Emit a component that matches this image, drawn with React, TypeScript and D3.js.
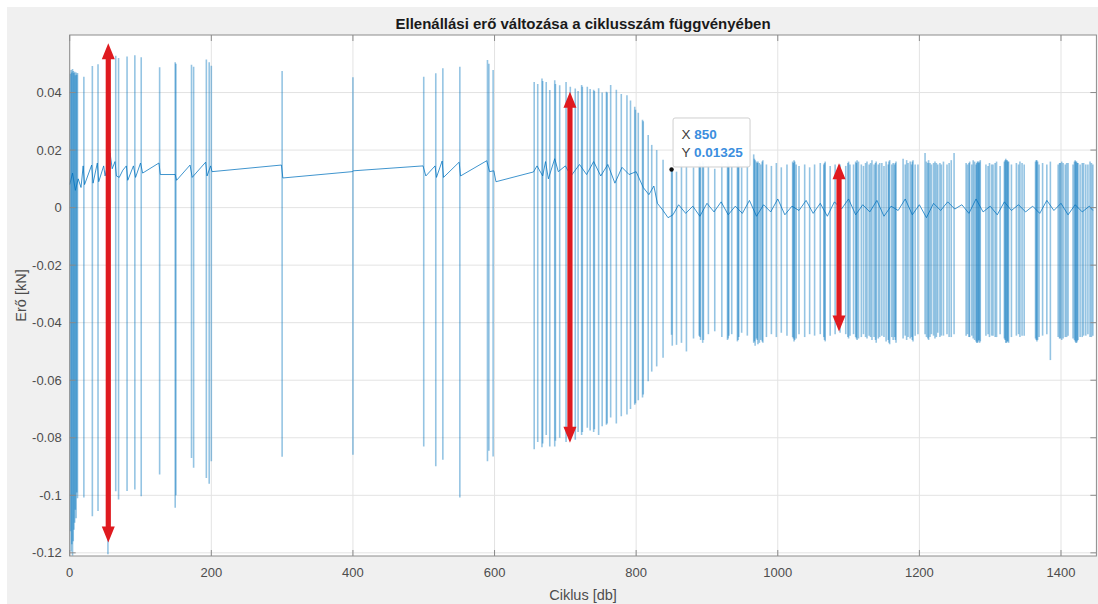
import * as d3 from 'd3'

const title = 'Ellenállási erő változása a ciklusszám függvényében'
const xLabel = 'Ciklus [db]'
const yLabel = 'Erő [kN]'

const xTicks = [0, 200, 400, 600, 800, 1000, 1200, 1400]
const yTicks = [-0.12, -0.1, -0.08, -0.06, -0.04, -0.02, 0, 0.02, 0.04]

// spikes: [cycle, peak, trough] (kN)
const spikesStart: [number, number, number][] = [
  [1, 0.0465, -0.1125], [2, 0.0478, -0.1195], [3, 0.047, -0.117], [4, 0.0482, -0.121],
  [5, 0.0475, -0.116], [6, 0.0468, -0.112], [7, 0.0472, -0.1095], [8, 0.046, -0.105],
  [9, 0.047, -0.108], [10, 0.0462, -0.099], [11, 0.0468, -0.101],
  [20, 0.0455, -0.1008], [32, 0.0492, -0.1073], [40, 0.0498, -0.1055], [54, 0.053, -0.1205],
  [65, 0.0528, -0.0986], [69, 0.052, -0.1015], [81, 0.0525, -0.0985], [92, 0.053, -0.098],
  [101, 0.0523, -0.1003], [127, 0.0488, -0.0928], [149, 0.0505, -0.1043], [150, 0.05, -0.1],
  [172, 0.0497, -0.087], [175, 0.049, -0.0904], [193, 0.0515, -0.094], [197, 0.0505, -0.096],
  [200, 0.0493, -0.0882],
]

const spikesMiddle: [number, number, number][] = [
  [300, 0.0475, -0.0866], [400, 0.0453, -0.0859], [500, 0.0455, -0.083], [517, 0.0467, -0.0899],
  [527, 0.0484, -0.0876], [551, 0.049, -0.1008], [590, 0.0513, -0.0882], [592, 0.05, -0.0845],
  [598, 0.0478, -0.0865], [656, 0.0437, -0.084], [661, 0.043, -0.0815], [667, 0.0449, -0.0833],
  [668, 0.044, -0.082], [673, 0.0437, -0.079], [678, 0.0409, -0.083], [685, 0.0443, -0.083],
  [686, 0.043, -0.081], [692, 0.0425, -0.08], [701, 0.0437, -0.0815], [707, 0.042, -0.0795],
  [714, 0.0414, -0.0807], [718, 0.0405, -0.078], [723, 0.0426, -0.079], [724, 0.042, -0.078],
  [731, 0.042, -0.0765], [735, 0.0412, -0.0775], [740, 0.041, -0.078], [741, 0.0405, -0.077],
  [747, 0.0415, -0.079], [752, 0.04, -0.076], [758, 0.0403, -0.0755], [759, 0.04, -0.075],
  [764, 0.0426, -0.073], [772, 0.041, -0.075], [779, 0.0395, -0.0725], [787, 0.0391, -0.0719],
  [792, 0.0372, -0.07], [798, 0.0351, -0.0685], [799, 0.034, -0.068], [803, 0.033, -0.067],
  [809, 0.0305, -0.066], [810, 0.03, -0.065], [817, 0.0252, -0.0604], [822, 0.0218, -0.057],
  [829, 0.02, -0.0552], [838, 0.0166, -0.0522],
]

const spikesEnd: [number, number, number][] = [
  [850, 0.01325, -0.0442], [851, 0.013, -0.048], [857, 0.0125, -0.0477], [864, 0.015, -0.047],
  [871, 0.0145, -0.05], [881, 0.014, -0.0455], [889, 0.0158, -0.0445], [890, 0.0155, -0.045],
  [891, 0.015, -0.046], [894, 0.0162, -0.047], [895, 0.0155, -0.046], [902, 0.015, -0.044],
  [911, 0.0135, -0.043], [921, 0.0155, -0.045], [929, 0.016, -0.046], [930, 0.0155, -0.0455],
  [931, 0.015, -0.0445], [935, 0.0145, -0.044], [943, 0.0158, -0.0465], [944, 0.0155, -0.046],
  [945, 0.015, -0.045], [949, 0.014, -0.0435], [957, 0.015, -0.0445], [966, 0.0185, -0.047],
  [967, 0.017, -0.0465], [968, 0.0165, -0.048], [970, 0.016, -0.0455], [971, 0.0155, -0.046],
  [972, 0.016, -0.0475], [974, 0.0155, -0.047], [976, 0.015, -0.046], [978, 0.016, -0.0465],
  [979, 0.0165, -0.047], [984, 0.015, -0.045], [991, 0.0145, -0.044], [998, 0.0155, -0.045],
  [1005, 0.014, -0.0435], [1013, 0.015, -0.0445], [1021, 0.016, -0.045], [1022, 0.0155, -0.0455],
  [1023, 0.0165, -0.0465], [1024, 0.016, -0.046], [1026, 0.015, -0.0455], [1030, 0.0145, -0.044],
  [1038, 0.015, -0.045], [1045, 0.014, -0.044], [1052, 0.015, -0.0445], [1060, 0.0155, -0.044],
  [1065, 0.015, -0.045], [1066, 0.0155, -0.046], [1067, 0.016, -0.0465], [1074, 0.0145, -0.0445],
  [1081, 0.015, -0.044], [1088, 0.015, -0.0435], [1096, 0.0145, -0.044], [1099, 0.0155, -0.045],
  [1100, 0.016, -0.0455], [1102, 0.015, -0.0445], [1107, 0.015, -0.044], [1110, 0.016, -0.045],
  [1111, 0.0155, -0.0455], [1112, 0.0165, -0.046], [1114, 0.016, -0.0455], [1118, 0.015, -0.045],
  [1121, 0.0145, -0.044], [1124, 0.0155, -0.045], [1126, 0.016, -0.0455], [1129, 0.015, -0.0445],
  [1131, 0.0155, -0.045], [1133, 0.0165, -0.046], [1136, 0.015, -0.045], [1138, 0.0155, -0.046],
  [1139, 0.016, -0.047], [1142, 0.015, -0.0455], [1144, 0.0155, -0.045], [1147, 0.0155, -0.0445],
  [1150, 0.0145, -0.045], [1153, 0.016, -0.0465], [1156, 0.015, -0.046], [1157, 0.016, -0.047],
  [1158, 0.0165, -0.0475], [1161, 0.015, -0.045], [1163, 0.0155, -0.046], [1165, 0.015, -0.045],
  [1166, 0.0155, -0.046], [1167, 0.016, -0.047], [1177, 0.017, -0.0455], [1180, 0.015, -0.0445],
  [1182, 0.0165, -0.046], [1184, 0.0155, -0.045], [1187, 0.016, -0.0455], [1189, 0.015, -0.045],
  [1190, 0.016, -0.046], [1191, 0.0165, -0.0465], [1194, 0.015, -0.0445], [1198, 0.015, -0.044],
  [1208, 0.019, -0.044], [1210, 0.016, -0.045], [1212, 0.0155, -0.0455], [1213, 0.0165, -0.046],
  [1215, 0.0155, -0.045], [1217, 0.015, -0.044], [1220, 0.0155, -0.0445], [1222, 0.016, -0.0455],
  [1224, 0.0155, -0.045], [1226, 0.015, -0.0435], [1229, 0.0155, -0.045], [1231, 0.015, -0.0445],
  [1234, 0.016, -0.0445], [1239, 0.015, -0.044], [1242, 0.0155, -0.045], [1245, 0.0165, -0.045],
  [1249, 0.019, -0.044], [1266, 0.0155, -0.0445], [1268, 0.015, -0.044], [1270, 0.0155, -0.045],
  [1271, 0.016, -0.045], [1274, 0.015, -0.0445], [1276, 0.0165, -0.0455], [1278, 0.016, -0.046],
  [1280, 0.015, -0.0465], [1281, 0.0155, -0.047], [1282, 0.016, -0.047], [1283, 0.016, -0.0465],
  [1284, 0.0155, -0.046], [1285, 0.016, -0.047], [1286, 0.0165, -0.0465], [1294, 0.015, -0.0445],
  [1297, 0.0145, -0.044], [1299, 0.0155, -0.045], [1302, 0.015, -0.0445], [1304, 0.015, -0.0445],
  [1307, 0.0155, -0.045], [1309, 0.016, -0.045], [1314, 0.0145, -0.044], [1320, 0.016, -0.0455],
  [1321, 0.0165, -0.046], [1322, 0.017, -0.047], [1323, 0.0165, -0.047], [1324, 0.0165, -0.0465],
  [1325, 0.016, -0.0465], [1326, 0.016, -0.047], [1330, 0.015, -0.045], [1337, 0.0155, -0.0445],
  [1340, 0.015, -0.044], [1342, 0.016, -0.045], [1345, 0.0155, -0.0445], [1348, 0.015, -0.0445],
  [1364, 0.016, -0.0455], [1365, 0.0165, -0.046], [1366, 0.0165, -0.0465], [1367, 0.016, -0.046],
  [1369, 0.015, -0.045], [1374, 0.0155, -0.0445], [1380, 0.015, -0.044], [1385, 0.016, -0.053],
  [1396, 0.015, -0.045], [1398, 0.0155, -0.0455], [1399, 0.0155, -0.0455], [1401, 0.016, -0.046],
  [1403, 0.0155, -0.0455], [1406, 0.015, -0.045], [1408, 0.0155, -0.045], [1410, 0.0155, -0.0445],
  [1417, 0.015, -0.0455], [1419, 0.016, -0.046], [1420, 0.0165, -0.0465], [1421, 0.016, -0.047],
  [1422, 0.016, -0.047], [1423, 0.0155, -0.0465], [1424, 0.0155, -0.046], [1427, 0.015, -0.045],
  [1430, 0.0155, -0.045], [1432, 0.0155, -0.0445], [1435, 0.015, -0.0445], [1438, 0.015, -0.044],
  [1441, 0.016, -0.045], [1443, 0.0155, -0.045], [1445, 0.015, -0.0445],
]

// slow drift of the signal between spikes: [cycle, kN]
const baseline: [number, number][] = [
  [0, 0.008], [4, 0.012], [8, 0.006], [12, 0.01], [16, 0.007], [19, 0.0145], [21, 0.008],
  [31, 0.0148], [33, 0.0085], [39, 0.0155], [41, 0.009], [48, 0.0145], [50, 0.011], [57, 0.019],
  [60, 0.0135], [64, 0.016], [66, 0.011], [70, 0.0105], [75, 0.013], [80, 0.0145], [82, 0.0095],
  [90, 0.0145], [93, 0.0105], [100, 0.0155], [103, 0.012], [126, 0.0155], [128, 0.0115],
  [149, 0.0115], [151, 0.0095], [170, 0.0148], [173, 0.0105], [192, 0.0158], [194, 0.011],
  [199, 0.0145], [201, 0.0125], [299, 0.0148], [301, 0.0103], [399, 0.0125], [401, 0.0128],
  [499, 0.0145], [503, 0.011], [516, 0.0145], [518, 0.0105], [526, 0.0162], [528, 0.0105],
  [550, 0.0158], [552, 0.011], [589, 0.0163], [593, 0.0125], [599, 0.0128], [602, 0.009],
  [655, 0.0124], [660, 0.0145], [668, 0.011], [672, 0.016], [676, 0.01], [685, 0.017],
  [690, 0.0125], [700, 0.0145], [708, 0.011], [720, 0.015], [730, 0.0115], [740, 0.016],
  [750, 0.011], [760, 0.015], [770, 0.0085], [780, 0.014], [790, 0.0115], [800, 0.0125],
  [810, 0.007], [818, 0.0045], [825, 0.0075], [830, 0.0015], [838, -0.001], [845, -0.0035],
  [852, -0.0025], [860, 0.001], [870, -0.002], [880, 0.0005], [890, -0.003], [900, 0.0015],
  [910, -0.0015], [920, 0.002], [930, -0.0025], [940, 0.0005], [950, -0.002], [960, 0.0025],
  [970, -0.003], [980, 0.001], [990, -0.0015], [1000, 0.003], [1010, -0.0025], [1020, 0.0005],
  [1030, -0.001], [1040, 0.0025], [1050, -0.002], [1060, 0.0015], [1070, -0.003], [1080, 0.002],
  [1090, -0.0005], [1100, 0.003], [1110, -0.0025], [1120, 0.001], [1130, -0.0015], [1140, 0.0025],
  [1150, -0.003], [1160, 0.0005], [1170, -0.001], [1180, 0.003], [1190, -0.0025], [1200, 0.001],
  [1210, -0.0035], [1220, 0.0015], [1230, -0.001], [1240, 0.002], [1250, -0.0005], [1260, 0.001],
  [1270, -0.002], [1280, 0.003], [1290, -0.0015], [1300, 0.0005], [1310, -0.0025], [1320, 0.002],
  [1330, -0.001], [1340, 0.001], [1350, -0.0015], [1360, 0.0005], [1370, -0.002], [1380, 0.0025],
  [1390, -0.001], [1400, 0.0015], [1410, -0.0025], [1420, 0.001], [1430, -0.0015], [1440, 0.0005],
  [1445, -0.001],
]

// red double arrows: [cycle, top, bottom]
const arrows: [number, number, number][] = [
  [54.5, 0.0571, -0.1164],
  [706.5, 0.0403, -0.0817],
  [1086.5, 0.0154, -0.0431],
]

const tipX = 850
const tipY = 0.01325

const W = 1098
const H = 604
const margin = { top: 35, right: 1.6, bottom: 48, left: 69.7 }
const FONT = '"Liberation Sans", Arial, Helvetica, sans-serif'

const fmtY = (v: number) => String(+v.toFixed(2))

function Arrow({ x, y1, y2 }: { x: number; y1: number; y2: number }) {
  const hl = 16, hw = 6.5, sw = 2.6
  const d = `M${x},${y1} L${x + hw},${y1 + hl} L${x + sw},${y1 + hl} L${x + sw},${y2 - hl} L${x + hw},${y2 - hl}
    L${x},${y2} L${x - hw},${y2 - hl} L${x - sw},${y2 - hl} L${x - sw},${y1 + hl} L${x - hw},${y1 + hl} Z`
  return <path d={d} fill="#df1a1f" />
}

export default function App() {
  const x = d3.scaleLinear().domain([0, 1450]).range([margin.left, W - margin.right])
  const y = d3.scaleLinear().domain([-0.1211, 0.06]).range([H - margin.bottom, margin.top])
  const x0 = x.range()[0], x1 = x.range()[1]
  const y0 = y.range()[0], y1 = y.range()[1]

  const line = d3.line<[number, number]>().x(d => x(d[0])).y(d => y(d[1]))
  const spikes = [...spikesStart, ...spikesMiddle, ...spikesEnd]
  const tl = 6

  const tx = x(tipX), ty = y(tipY)

  return (
    <svg width={W} height={H} style={{ position: 'fixed', left: 0, top: 0, display: 'block' }} fontFamily={FONT}>
      <rect x={0} y={0} width={W} height={H} fill="#fff" />
      <rect x={7} y={7} width={W - 7} height={H - 7} fill="#f0f0f0" />
      <rect x={x0} y={y1} width={x1 - x0} height={y0 - y1} fill="#fff" />

      {/* grid */}
      <g stroke="#e3e3e3" strokeWidth={1}>
        {xTicks.map(t => <line key={'gx' + t} x1={x(t)} x2={x(t)} y1={y1} y2={y0} />)}
        {yTicks.map(t => <line key={'gy' + t} x1={x0} x2={x1} y1={y(t)} y2={y(t)} />)}
      </g>

      {/* data */}
      <g stroke="#0072BD" fill="none">
        {spikes.map(([c, hi, lo], i) => (
          <line key={i} x1={x(c)} x2={x(c)} y1={y(hi)} y2={y(lo)} strokeWidth={1.6} strokeOpacity={0.42} />
        ))}
        <path d={line(baseline) ?? ''} strokeWidth={1} strokeOpacity={0.75} />
      </g>

      {/* box + ticks */}
      <g stroke="#8c8c8c" strokeWidth={1} fill="none">
        <rect x={x0} y={y1} width={x1 - x0} height={y0 - y1} />
        {xTicks.map(t => (
          <g key={'tx' + t}>
            <line x1={x(t)} x2={x(t)} y1={y0} y2={y0 - tl} />
            <line x1={x(t)} x2={x(t)} y1={y1} y2={y1 + tl} />
          </g>
        ))}
        {yTicks.map(t => (
          <g key={'ty' + t}>
            <line x1={x0} x2={x0 + tl} y1={y(t)} y2={y(t)} />
            <line x1={x1} x2={x1 - tl} y1={y(t)} y2={y(t)} />
          </g>
        ))}
      </g>

      <g fill="#4d4d4d" fontSize={13}>
        {xTicks.map(t => (
          <text key={'lx' + t} x={x(t)} y={y0 + 21} textAnchor="middle">{t}</text>
        ))}
        {yTicks.map(t => (
          <text key={'ly' + t} x={x0 - 8} y={y(t) + 4.5} textAnchor="end">{fmtY(t)}</text>
        ))}
      </g>

      <text x={(x0 + x1) / 2} y={y0 + 44} textAnchor="middle" fontSize={14.5} fill="#4d4d4d">{xLabel}</text>
      <text transform={`translate(${x0 - 44},${(y0 + y1) / 2}) rotate(-90)`} textAnchor="middle" fontSize={14.5} fill="#4d4d4d">{yLabel}</text>
      <text x={(x0 + x1) / 2} y={y1 - 6} textAnchor="middle" fontSize={15} fontWeight="bold" fill="#1a1a1a">{title}</text>

      {/* arrows */}
      {arrows.map(([c, hi, lo], i) => <Arrow key={i} x={x(c)} y1={y(hi)} y2={y(lo)} />)}

      {/* datatip */}
      <g>
        <rect x={tx + 1.5} y={ty - 51.5} width={77} height={49} rx={2} fill="#fff" fillOpacity={0.95} stroke="#cfcfcf" />
        <text x={tx + 10} y={ty - 30} fontSize={13.5} fill="#404040">X <tspan fill="#3b8ede" fontWeight="bold">{tipX}</tspan></text>
        <text x={tx + 10} y={ty - 12} fontSize={13.5} fill="#404040">Y <tspan fill="#3b8ede" fontWeight="bold">{tipY}</tspan></text>
        <circle cx={tx} cy={ty} r={2.2} fill="#111" />
      </g>
    </svg>
  )
}
